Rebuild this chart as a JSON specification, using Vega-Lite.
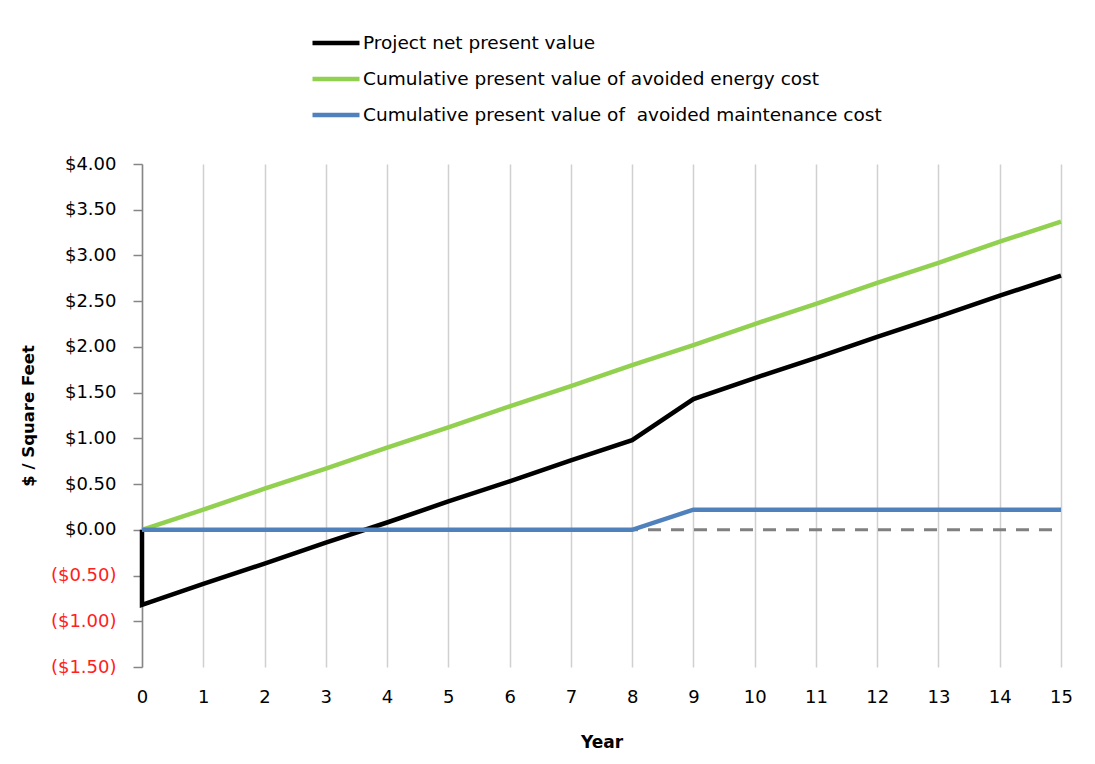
{
  "$schema": "https://vega.github.io/schema/vega-lite/v6.json",
  "autosize": "none",
  "width": 919,
  "height": 503,
  "padding": {"left": 142, "top": 164, "right": 34, "bottom": 97},
  "background": "white",
  "config": {
    "view": {"stroke": null},
    "font": "DejaVu Sans",
    "axis": {"labelFont": "DejaVu Sans", "titleFont": "DejaVu Sans"},
    "legend": {"labelFont": "DejaVu Sans"}
  },
  "datasets": {
    "series": [
      {"series": "Project net present value", "year": 0, "value": 0.0, "i": 0},
      {"series": "Project net present value", "year": 0, "value": -0.82, "i": 1},
      {"series": "Project net present value", "year": 1, "value": -0.59, "i": 2},
      {"series": "Project net present value", "year": 2, "value": -0.37, "i": 3},
      {"series": "Project net present value", "year": 3, "value": -0.14, "i": 4},
      {"series": "Project net present value", "year": 4, "value": 0.08, "i": 5},
      {"series": "Project net present value", "year": 5, "value": 0.31, "i": 6},
      {"series": "Project net present value", "year": 6, "value": 0.53, "i": 7},
      {"series": "Project net present value", "year": 7, "value": 0.76, "i": 8},
      {"series": "Project net present value", "year": 8, "value": 0.98, "i": 9},
      {"series": "Project net present value", "year": 9, "value": 1.43, "i": 10},
      {"series": "Project net present value", "year": 10, "value": 1.66, "i": 11},
      {"series": "Project net present value", "year": 11, "value": 1.88, "i": 12},
      {"series": "Project net present value", "year": 12, "value": 2.11, "i": 13},
      {"series": "Project net present value", "year": 13, "value": 2.33, "i": 14},
      {"series": "Project net present value", "year": 14, "value": 2.56, "i": 15},
      {"series": "Project net present value", "year": 15, "value": 2.78, "i": 16},
      {"series": "Cumulative present value of avoided energy cost", "year": 0, "value": 0.0, "i": 0},
      {"series": "Cumulative present value of avoided energy cost", "year": 1, "value": 0.22, "i": 1},
      {"series": "Cumulative present value of avoided energy cost", "year": 2, "value": 0.45, "i": 2},
      {"series": "Cumulative present value of avoided energy cost", "year": 3, "value": 0.67, "i": 3},
      {"series": "Cumulative present value of avoided energy cost", "year": 4, "value": 0.9, "i": 4},
      {"series": "Cumulative present value of avoided energy cost", "year": 5, "value": 1.12, "i": 5},
      {"series": "Cumulative present value of avoided energy cost", "year": 6, "value": 1.35, "i": 6},
      {"series": "Cumulative present value of avoided energy cost", "year": 7, "value": 1.57, "i": 7},
      {"series": "Cumulative present value of avoided energy cost", "year": 8, "value": 1.8, "i": 8},
      {"series": "Cumulative present value of avoided energy cost", "year": 9, "value": 2.02, "i": 9},
      {"series": "Cumulative present value of avoided energy cost", "year": 10, "value": 2.25, "i": 10},
      {"series": "Cumulative present value of avoided energy cost", "year": 11, "value": 2.47, "i": 11},
      {"series": "Cumulative present value of avoided energy cost", "year": 12, "value": 2.7, "i": 12},
      {"series": "Cumulative present value of avoided energy cost", "year": 13, "value": 2.92, "i": 13},
      {"series": "Cumulative present value of avoided energy cost", "year": 14, "value": 3.15, "i": 14},
      {"series": "Cumulative present value of avoided energy cost", "year": 15, "value": 3.37, "i": 15},
      {"series": "Cumulative present value of  avoided maintenance cost", "year": 0, "value": 0.0, "i": 0},
      {"series": "Cumulative present value of  avoided maintenance cost", "year": 1, "value": 0.0, "i": 1},
      {"series": "Cumulative present value of  avoided maintenance cost", "year": 2, "value": 0.0, "i": 2},
      {"series": "Cumulative present value of  avoided maintenance cost", "year": 3, "value": 0.0, "i": 3},
      {"series": "Cumulative present value of  avoided maintenance cost", "year": 4, "value": 0.0, "i": 4},
      {"series": "Cumulative present value of  avoided maintenance cost", "year": 5, "value": 0.0, "i": 5},
      {"series": "Cumulative present value of  avoided maintenance cost", "year": 6, "value": 0.0, "i": 6},
      {"series": "Cumulative present value of  avoided maintenance cost", "year": 7, "value": 0.0, "i": 7},
      {"series": "Cumulative present value of  avoided maintenance cost", "year": 8, "value": 0.0, "i": 8},
      {"series": "Cumulative present value of  avoided maintenance cost", "year": 9, "value": 0.22, "i": 9},
      {"series": "Cumulative present value of  avoided maintenance cost", "year": 10, "value": 0.22, "i": 10},
      {"series": "Cumulative present value of  avoided maintenance cost", "year": 11, "value": 0.22, "i": 11},
      {"series": "Cumulative present value of  avoided maintenance cost", "year": 12, "value": 0.22, "i": 12},
      {"series": "Cumulative present value of  avoided maintenance cost", "year": 13, "value": 0.22, "i": 13},
      {"series": "Cumulative present value of  avoided maintenance cost", "year": 14, "value": 0.22, "i": 14},
      {"series": "Cumulative present value of  avoided maintenance cost", "year": 15, "value": 0.22, "i": 15}
    ],
    "zero": [
      {"year": 0, "value": 0},
      {"year": 15, "value": 0}
    ]
  },
  "layer": [
    {
      "data": {"name": "zero"},
      "mark": {"type": "line", "color": "#808080", "strokeWidth": 3, "strokeDash": [13, 10]},
      "encoding": {
        "x": {
          "field": "year", "type": "quantitative",
          "scale": {"domain": [0, 15], "nice": false},
          "axis": {
            "title": "Year",
            "titleFontSize": 17, "titleFontWeight": "bold", "titleColor": "#000000", "titlePadding": 28,
            "values": [0,1,2,3,4,5,6,7,8,9,10,11,12,13,14,15],
            "format": "d",
            "labelFontSize": 18, "labelColor": "#000000", "labelPadding": 21, "labelFlush": false,
            "ticks": false, "domain": false,
            "grid": true, "gridColor": "#D0D0D0", "gridWidth": 1.5
          }
        },
        "y": {
          "field": "value", "type": "quantitative",
          "scale": {"domain": [-1.5, 4], "nice": false, "zero": false},
          "axis": {
            "title": "$ / Square Feet",
            "titleFontSize": 16.5, "titleFontWeight": "bold", "titleColor": "#000000", "titlePadding": 14,
            "values": [-1.5, -1, -0.5, 0, 0.5, 1, 1.5, 2, 2.5, 3, 3.5, 4],
            "labelExpr": "datum.value < 0 ? '($' + format(-datum.value, '.2f') + ')' : '$' + format(datum.value, '.2f')",
            "labelColor": {"condition": {"test": "datum.value < 0", "value": "#FF2020"}, "value": "#000000"},
            "labelFontSize": 18, "labelPadding": 17, "labelFlush": false,
            "tickSize": 9, "tickColor": "#868686", "tickWidth": 1.5,
            "domainColor": "#868686", "domainWidth": 1.5,
            "grid": false
          }
        }
      }
    },
    {
      "data": {"name": "series"},
      "mark": {"type": "line", "strokeWidth": 4.5},
      "encoding": {
        "x": {"field": "year", "type": "quantitative"},
        "y": {"field": "value", "type": "quantitative"},
        "order": {"field": "i", "type": "quantitative"},
        "color": {
          "field": "series", "type": "nominal",
          "scale": {
            "domain": ["Project net present value", "Cumulative present value of avoided energy cost", "Cumulative present value of  avoided maintenance cost"],
            "range": ["#000000", "#92D050", "#4F81BD"]
          },
          "legend": {
            "title": null,
            "orient": "none",
            "legendX": 168,
            "legendY": -147,
            "direction": "vertical",
            "symbolType": "stroke",
            "symbolSize": 2209,
            "symbolStrokeWidth": 4.5,
            "labelFontSize": 18.5,
            "labelColor": "#000000",
            "labelOffset": 1,
            "labelLimit": 700,
            "labelExpr": "replace(datum.label, '  ', ' \u00a0')",
            "rowPadding": -10
          }
        }
      }
    }
  ]
}
